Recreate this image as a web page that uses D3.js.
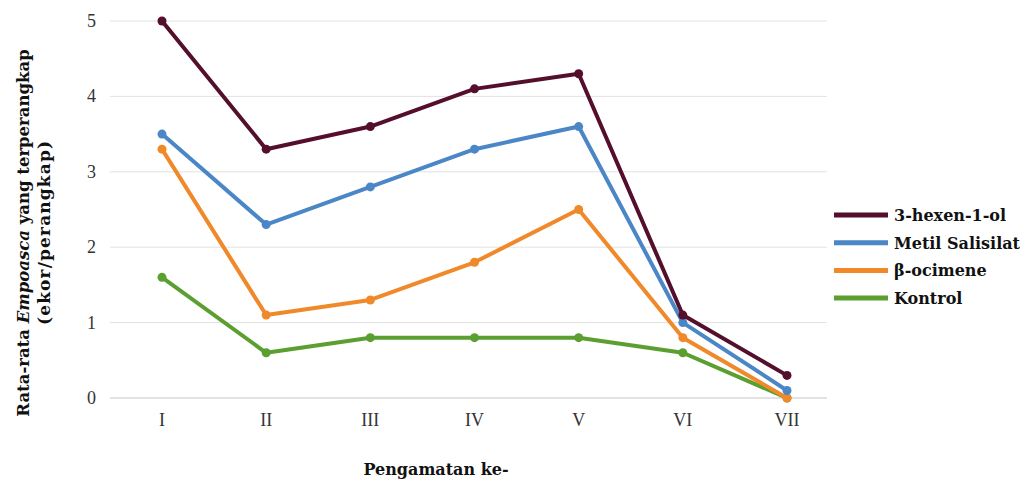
<!DOCTYPE html>
<html><head><meta charset="utf-8">
<script src="https://cdn.jsdelivr.net/npm/d3@7/dist/d3.min.js"></script>
<style>body{margin:0;background:#fff}svg{display:block}text{font-family:"Liberation Serif","Times New Roman",serif}
.b{font-family:"DejaVu Serif",serif;font-weight:bold}</style>
</head><body>
<svg id="c" width="1027" height="479"></svg>
<script>
const categories = ["I","II","III","IV","V","VI","VII"];
const seriesNames = ["3-hexen-1-ol","Metil Salisilat","β-ocimene","Kontrol"];
const hexenol = [5.0,3.3,3.6,4.1,4.3,1.1,0.3];
const metilSalisilat = [3.5,2.3,2.8,3.3,3.6,1.0,0.1];
const ocimene = [3.3,1.1,1.3,1.8,2.5,0.8,0.0];
const kontrol = [1.6,0.6,0.8,0.8,0.8,0.6,0.0];
const yTicks = [0,1,2,3,4,5];
const colors = ["#530f2c","#4b86c6","#f0892a","#5b9f30"];
const seriesValues = [hexenol, metilSalisilat, ocimene, kontrol];

const svg = d3.select("#c");
const x = d3.scalePoint().domain(categories).range([162,787]);
const y = d3.scaleLinear().domain([0,5]).range([398,21]);

svg.append("g").selectAll("line").data(yTicks).join("line")
  .attr("x1",110).attr("x2",827).attr("y1",d=>y(d)).attr("y2",d=>y(d))
  .attr("stroke", d=> d===0 ? "#c8c8c8" : "#e2e2e2").attr("stroke-width",1);

svg.append("g").selectAll("text").data(yTicks).join("text")
  .attr("x",96).attr("y",d=>y(d)+6).attr("text-anchor","end")
  .attr("font-size",18).attr("fill","#333").text(d=>d);

svg.append("g").selectAll("text").data(categories).join("text")
  .attr("x",d=>x(d)).attr("y",426).attr("text-anchor","middle")
  .attr("font-size",18).attr("fill","#333").text(d=>d);

const line = d3.line().x((d,i)=>x(categories[i])).y(d=>y(d));
seriesValues.slice().reverse().forEach((vals,ri)=>{
  const i = seriesValues.length-1-ri;
  const g = svg.append("g");
  g.append("path").datum(vals).attr("d",line).attr("fill","none")
    .attr("stroke",colors[i]).attr("stroke-width",4).attr("stroke-linejoin","round");
  g.selectAll("circle").data(vals).join("circle")
    .attr("cx",(d,j)=>x(categories[j])).attr("cy",d=>y(d)).attr("r",4.5)
    .attr("fill",colors[i]);
});

svg.append("text").attr("class","b").attr("x",436).attr("y",475).attr("text-anchor","middle")
  .attr("font-size",16).attr("fill","#111").text("Pengamatan ke-");

const yt = svg.append("text").attr("class","b").attr("transform","translate(29,233) rotate(-90)")
  .attr("text-anchor","middle").attr("font-size",16.5).attr("fill","#111");
yt.append("tspan").text("Rata-rata ");
yt.append("tspan").attr("font-style","italic").text("Empoasca");
yt.append("tspan").text(" yang terperangkap");
svg.append("text").attr("class","b").attr("transform","translate(50,233) rotate(-90)")
  .attr("text-anchor","middle").attr("font-size",17).attr("fill","#111")
  .attr("textLength",184).attr("lengthAdjust","spacing")
  .text("(ekor/perangkap)");

const lg = svg.append("g");
seriesNames.forEach((n,i)=>{
  const ly = 215 + i*27.7;
  lg.append("line").attr("x1",834).attr("x2",888).attr("y1",ly).attr("y2",ly)
    .attr("stroke",colors[i]).attr("stroke-width",5);
  lg.append("text").attr("class","b").attr("x",894).attr("y",ly+6).attr("font-size",16)
    .attr("fill","#111").text(n);
});
</script>
</body></html>
